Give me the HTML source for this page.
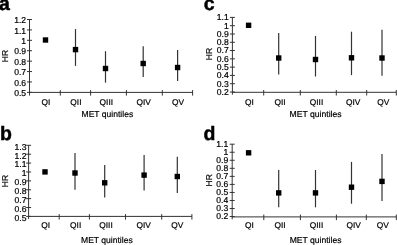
<!DOCTYPE html>
<html><head><meta charset="utf-8"><style>
html,body{margin:0;padding:0;background:#fff;}
body{width:397px;height:245px;overflow:hidden;}
svg{display:block;will-change:transform;}
text{font-family:"Liberation Sans",sans-serif;fill:#000;text-rendering:geometricPrecision;}
.t{font-size:8.6px;stroke:#000;stroke-width:0.2px;}
.q{font-size:8.4px;stroke:#000;stroke-width:0.2px;}
.m{font-size:8.6px;stroke:#000;stroke-width:0.2px;}
.L{font-size:19.5px;font-weight:bold;stroke:#000;stroke-width:0.45px;}
.ax{stroke:#333;stroke-width:1;}
.eb{stroke:#333;stroke-width:1.2;}
</style></head><body>
<svg width="397" height="245" viewBox="0 0 397 245">
<rect width="397" height="245" fill="#fff"/>
<text x="-0.9" y="9.6" class="L">a</text>
<line x1="29.5" y1="19.5" x2="29.5" y2="95.5" class="ax"/>
<line x1="29.5" y1="92.4" x2="192.6" y2="92.4" class="ax"/>
<line x1="27.00" y1="19.50" x2="32.00" y2="19.50" class="ax"/>
<text x="26.1" y="23.10" class="t" text-anchor="end">1.2</text>
<line x1="27.00" y1="29.91" x2="32.00" y2="29.91" class="ax"/>
<text x="26.1" y="33.51" class="t" text-anchor="end">1.1</text>
<line x1="27.00" y1="40.32" x2="32.00" y2="40.32" class="ax"/>
<text x="26.1" y="43.92" class="t" text-anchor="end">1</text>
<line x1="27.00" y1="50.73" x2="32.00" y2="50.73" class="ax"/>
<text x="26.1" y="54.33" class="t" text-anchor="end">0.9</text>
<line x1="27.00" y1="61.14" x2="32.00" y2="61.14" class="ax"/>
<text x="26.1" y="64.74" class="t" text-anchor="end">0.8</text>
<line x1="27.00" y1="71.55" x2="32.00" y2="71.55" class="ax"/>
<text x="26.1" y="75.15" class="t" text-anchor="end">0.7</text>
<line x1="27.00" y1="81.96" x2="32.00" y2="81.96" class="ax"/>
<text x="26.1" y="85.56" class="t" text-anchor="end">0.6</text>
<line x1="27.00" y1="92.37" x2="32.00" y2="92.37" class="ax"/>
<text x="26.1" y="95.97" class="t" text-anchor="end">0.5</text>
<line x1="60.3" y1="90.10" x2="60.3" y2="95.60" class="ax"/>
<line x1="90.6" y1="90.10" x2="90.6" y2="95.60" class="ax"/>
<line x1="126.4" y1="90.10" x2="126.4" y2="95.60" class="ax"/>
<line x1="162.3" y1="90.10" x2="162.3" y2="95.60" class="ax"/>
<line x1="192.6" y1="90.10" x2="192.6" y2="95.60" class="ax"/>
<text x="46" y="104.50" class="q" text-anchor="middle">QI</text>
<text x="75.9" y="104.50" class="q" text-anchor="middle">QII</text>
<text x="106.3" y="104.50" class="q" text-anchor="middle">QIII</text>
<text x="143.6" y="104.50" class="q" text-anchor="middle">QIV</text>
<text x="178" y="104.50" class="q" text-anchor="middle">QV</text>
<text x="81.5" y="116.75" class="m" textLength="51.7" lengthAdjust="spacingAndGlyphs">MET quintiles</text>
<text transform="translate(7.50,56.10) rotate(-90)" class="t" text-anchor="middle">HR</text>
<rect x="42.80" y="37.30" width="5.4" height="5.4" fill="#000"/>
<line x1="75.5" y1="29.1" x2="75.5" y2="65.9" class="eb"/>
<rect x="72.80" y="46.90" width="5.4" height="5.4" fill="#000"/>
<line x1="105.5" y1="51.2" x2="105.5" y2="82.6" class="eb"/>
<rect x="102.80" y="65.80" width="5.4" height="5.4" fill="#000"/>
<line x1="143.2" y1="46.2" x2="143.2" y2="77.1" class="eb"/>
<rect x="140.50" y="60.80" width="5.4" height="5.4" fill="#000"/>
<line x1="177.6" y1="50.1" x2="177.6" y2="81.1" class="eb"/>
<rect x="174.90" y="64.80" width="5.4" height="5.4" fill="#000"/>
<text x="-0.1" y="140.3" class="L">b</text>
<line x1="28.6" y1="145.3" x2="28.6" y2="219" class="ax"/>
<line x1="28.6" y1="216.4" x2="191.9" y2="216.4" class="ax"/>
<line x1="26.10" y1="145.30" x2="31.10" y2="145.30" class="ax"/>
<text x="26.5" y="149.70" class="t" text-anchor="end">1.3</text>
<line x1="26.10" y1="154.19" x2="31.10" y2="154.19" class="ax"/>
<text x="26.5" y="158.59" class="t" text-anchor="end">1.2</text>
<line x1="26.10" y1="163.08" x2="31.10" y2="163.08" class="ax"/>
<text x="26.5" y="167.48" class="t" text-anchor="end">1.1</text>
<line x1="26.10" y1="171.97" x2="31.10" y2="171.97" class="ax"/>
<text x="26.5" y="176.37" class="t" text-anchor="end">1</text>
<line x1="26.10" y1="180.86" x2="31.10" y2="180.86" class="ax"/>
<text x="26.5" y="185.26" class="t" text-anchor="end">0.9</text>
<line x1="26.10" y1="189.75" x2="31.10" y2="189.75" class="ax"/>
<text x="26.5" y="194.15" class="t" text-anchor="end">0.8</text>
<line x1="26.10" y1="198.64" x2="31.10" y2="198.64" class="ax"/>
<text x="26.5" y="203.04" class="t" text-anchor="end">0.7</text>
<line x1="26.10" y1="207.53" x2="31.10" y2="207.53" class="ax"/>
<text x="26.5" y="211.93" class="t" text-anchor="end">0.6</text>
<line x1="26.10" y1="216.42" x2="31.10" y2="216.42" class="ax"/>
<text x="26.5" y="220.82" class="t" text-anchor="end">0.5</text>
<line x1="59.2" y1="214.10" x2="59.2" y2="219.60" class="ax"/>
<line x1="89.4" y1="214.10" x2="89.4" y2="219.60" class="ax"/>
<line x1="125.5" y1="214.10" x2="125.5" y2="219.60" class="ax"/>
<line x1="161.7" y1="214.10" x2="161.7" y2="219.60" class="ax"/>
<line x1="191.9" y1="214.10" x2="191.9" y2="219.60" class="ax"/>
<text x="45.7" y="228.10" class="q" text-anchor="middle">QI</text>
<text x="75.7" y="228.10" class="q" text-anchor="middle">QII</text>
<text x="106" y="228.10" class="q" text-anchor="middle">QIII</text>
<text x="143.6" y="228.10" class="q" text-anchor="middle">QIV</text>
<text x="177.3" y="228.10" class="q" text-anchor="middle">QV</text>
<text x="81" y="242.85" class="m" textLength="51.7" lengthAdjust="spacingAndGlyphs">MET quintiles</text>
<text transform="translate(7.50,181.00) rotate(-90)" class="t" text-anchor="middle">HR</text>
<rect x="42.30" y="169.20" width="5.4" height="5.4" fill="#000"/>
<line x1="75" y1="152.9" x2="75" y2="189.8" class="eb"/>
<rect x="72.30" y="170.30" width="5.4" height="5.4" fill="#000"/>
<line x1="104.7" y1="164.9" x2="104.7" y2="197.4" class="eb"/>
<rect x="102.00" y="180.10" width="5.4" height="5.4" fill="#000"/>
<line x1="144.1" y1="154.9" x2="144.1" y2="190.6" class="eb"/>
<rect x="141.40" y="172.40" width="5.4" height="5.4" fill="#000"/>
<line x1="177.3" y1="156.8" x2="177.3" y2="193.1" class="eb"/>
<rect x="174.60" y="173.80" width="5.4" height="5.4" fill="#000"/>
<text x="203.8" y="10.35" class="L">c</text>
<line x1="232.4" y1="17.4" x2="232.4" y2="94.7" class="ax"/>
<line x1="232.4" y1="92.3" x2="396.3" y2="92.3" class="ax"/>
<line x1="229.90" y1="17.40" x2="234.90" y2="17.40" class="ax"/>
<text x="228.7" y="20.30" class="t" text-anchor="end">1.1</text>
<line x1="229.90" y1="25.69" x2="234.90" y2="25.69" class="ax"/>
<text x="228.7" y="28.59" class="t" text-anchor="end">1</text>
<line x1="229.90" y1="33.98" x2="234.90" y2="33.98" class="ax"/>
<text x="228.7" y="36.88" class="t" text-anchor="end">0.9</text>
<line x1="229.90" y1="42.27" x2="234.90" y2="42.27" class="ax"/>
<text x="228.7" y="45.17" class="t" text-anchor="end">0.8</text>
<line x1="229.90" y1="50.56" x2="234.90" y2="50.56" class="ax"/>
<text x="228.7" y="53.46" class="t" text-anchor="end">0.7</text>
<line x1="229.90" y1="58.85" x2="234.90" y2="58.85" class="ax"/>
<text x="228.7" y="61.75" class="t" text-anchor="end">0.6</text>
<line x1="229.90" y1="67.14" x2="234.90" y2="67.14" class="ax"/>
<text x="228.7" y="70.04" class="t" text-anchor="end">0.5</text>
<line x1="229.90" y1="75.43" x2="234.90" y2="75.43" class="ax"/>
<text x="228.7" y="78.33" class="t" text-anchor="end">0.4</text>
<line x1="229.90" y1="83.72" x2="234.90" y2="83.72" class="ax"/>
<text x="228.7" y="86.62" class="t" text-anchor="end">0.3</text>
<line x1="229.90" y1="92.01" x2="234.90" y2="92.01" class="ax"/>
<text x="228.7" y="94.91" class="t" text-anchor="end">0.2</text>
<line x1="263.7" y1="90.00" x2="263.7" y2="95.50" class="ax"/>
<line x1="300.3" y1="90.00" x2="300.3" y2="95.50" class="ax"/>
<line x1="336.3" y1="90.00" x2="336.3" y2="95.50" class="ax"/>
<line x1="366.7" y1="90.00" x2="366.7" y2="95.50" class="ax"/>
<line x1="396.3" y1="90.00" x2="396.3" y2="95.50" class="ax"/>
<text x="249.4" y="104.50" class="q" text-anchor="middle">QI</text>
<text x="280" y="104.50" class="q" text-anchor="middle">QII</text>
<text x="316.5" y="104.50" class="q" text-anchor="middle">QIII</text>
<text x="353.2" y="104.50" class="q" text-anchor="middle">QIV</text>
<text x="383.2" y="104.50" class="q" text-anchor="middle">QV</text>
<text x="289.5" y="117.05" class="m" textLength="52.1" lengthAdjust="spacingAndGlyphs">MET quintiles</text>
<text transform="translate(211.60,54.00) rotate(-90)" class="t" text-anchor="middle">HR</text>
<rect x="245.90" y="22.60" width="5.4" height="5.4" fill="#000"/>
<line x1="278.7" y1="32.9" x2="278.7" y2="74.5" class="eb"/>
<rect x="276.00" y="55.30" width="5.4" height="5.4" fill="#000"/>
<line x1="315.5" y1="35.9" x2="315.5" y2="76.5" class="eb"/>
<rect x="312.80" y="56.80" width="5.4" height="5.4" fill="#000"/>
<line x1="351.5" y1="31.7" x2="351.5" y2="75.1" class="eb"/>
<rect x="348.80" y="55.10" width="5.4" height="5.4" fill="#000"/>
<line x1="382" y1="29.8" x2="382" y2="75.7" class="eb"/>
<rect x="379.30" y="55.30" width="5.4" height="5.4" fill="#000"/>
<text x="203.6" y="140.2" class="L">d</text>
<line x1="232.2" y1="144.2" x2="232.2" y2="219.3" class="ax"/>
<line x1="232.2" y1="216.9" x2="396.3" y2="216.9" class="ax"/>
<line x1="229.70" y1="144.20" x2="234.70" y2="144.20" class="ax"/>
<text x="228.3" y="146.90" class="t" text-anchor="end">1.1</text>
<line x1="229.70" y1="152.24" x2="234.70" y2="152.24" class="ax"/>
<text x="228.3" y="154.94" class="t" text-anchor="end">1</text>
<line x1="229.70" y1="160.28" x2="234.70" y2="160.28" class="ax"/>
<text x="228.3" y="162.98" class="t" text-anchor="end">0.9</text>
<line x1="229.70" y1="168.32" x2="234.70" y2="168.32" class="ax"/>
<text x="228.3" y="171.02" class="t" text-anchor="end">0.8</text>
<line x1="229.70" y1="176.36" x2="234.70" y2="176.36" class="ax"/>
<text x="228.3" y="179.06" class="t" text-anchor="end">0.7</text>
<line x1="229.70" y1="184.40" x2="234.70" y2="184.40" class="ax"/>
<text x="228.3" y="187.10" class="t" text-anchor="end">0.6</text>
<line x1="229.70" y1="192.44" x2="234.70" y2="192.44" class="ax"/>
<text x="228.3" y="195.14" class="t" text-anchor="end">0.5</text>
<line x1="229.70" y1="200.48" x2="234.70" y2="200.48" class="ax"/>
<text x="228.3" y="203.18" class="t" text-anchor="end">0.4</text>
<line x1="229.70" y1="208.52" x2="234.70" y2="208.52" class="ax"/>
<text x="228.3" y="211.22" class="t" text-anchor="end">0.3</text>
<line x1="229.70" y1="216.56" x2="234.70" y2="216.56" class="ax"/>
<text x="228.3" y="219.26" class="t" text-anchor="end">0.2</text>
<line x1="263.8" y1="214.60" x2="263.8" y2="220.10" class="ax"/>
<line x1="300.4" y1="214.60" x2="300.4" y2="220.10" class="ax"/>
<line x1="336.4" y1="214.60" x2="336.4" y2="220.10" class="ax"/>
<line x1="366.3" y1="214.60" x2="366.3" y2="220.10" class="ax"/>
<line x1="396.3" y1="214.60" x2="396.3" y2="220.10" class="ax"/>
<text x="249.4" y="227.50" class="q" text-anchor="middle">QI</text>
<text x="280" y="227.50" class="q" text-anchor="middle">QII</text>
<text x="316.5" y="227.50" class="q" text-anchor="middle">QIII</text>
<text x="353.6" y="227.50" class="q" text-anchor="middle">QIV</text>
<text x="382.8" y="227.50" class="q" text-anchor="middle">QV</text>
<text x="289.7" y="242.95" class="m" textLength="51.8" lengthAdjust="spacingAndGlyphs">MET quintiles</text>
<text transform="translate(212.10,180.30) rotate(-90)" class="t" text-anchor="middle">HR</text>
<rect x="245.90" y="150.10" width="5.4" height="5.4" fill="#000"/>
<line x1="278.7" y1="169.9" x2="278.7" y2="207.3" class="eb"/>
<rect x="276.00" y="190.20" width="5.4" height="5.4" fill="#000"/>
<line x1="315.5" y1="170" x2="315.5" y2="207.3" class="eb"/>
<rect x="312.80" y="190.20" width="5.4" height="5.4" fill="#000"/>
<line x1="351.5" y1="161.9" x2="351.5" y2="203.7" class="eb"/>
<rect x="348.80" y="184.50" width="5.4" height="5.4" fill="#000"/>
<line x1="382" y1="153.9" x2="382" y2="201" class="eb"/>
<rect x="379.30" y="178.70" width="5.4" height="5.4" fill="#000"/>
</svg>
</body></html>
